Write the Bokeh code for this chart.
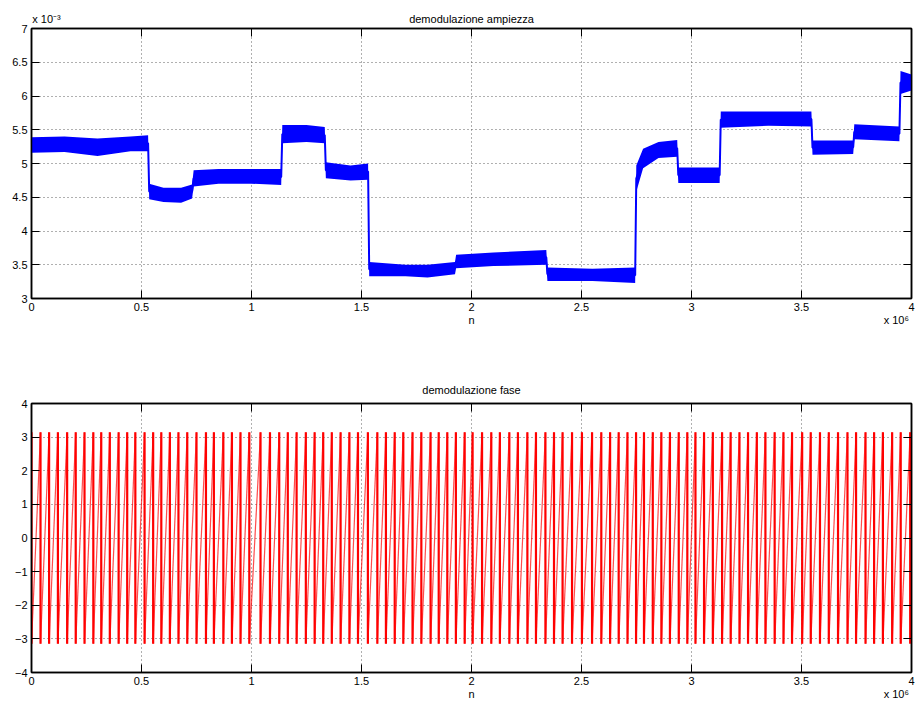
import numpy as np
from bokeh.plotting import figure
from bokeh.layouts import column
from bokeh.models import Range1d, FixedTicker, LinearAxis
from bokeh.embed import file_html
from bokeh.resources import INLINE

FONT = "Liberation Sans"

# ---------------- data ----------------
# amplitude envelope: n in units of 1e6, amplitude in units of 1e-3
amp_n = [0.0, 0.15, 0.30, 0.45, 0.530,
         0.535, 0.60, 0.68, 0.730,
         0.737, 0.85, 1.00, 1.135,
         1.140, 1.25, 1.333,
         1.338, 1.45, 1.530,
         1.535, 1.70, 1.80, 1.925,
         1.930, 2.10, 2.340,
         2.345, 2.55, 2.744,
         2.749, 2.78, 2.85, 2.935,
         2.940, 3.128,
         3.133, 3.35, 3.545,
         3.550, 3.735,
         3.740, 3.945,
         3.950, 4.000]
amp_lo = [5.16, 5.17, 5.11, 5.18, 5.18,
          4.47, 4.43, 4.42, 4.48,
          4.66, 4.70, 4.70, 4.68,
          5.30, 5.32, 5.30,
          4.78, 4.75, 4.76,
          3.33, 3.33, 3.31, 3.36,
          3.45, 3.48, 3.50,
          3.26, 3.26, 3.23,
          4.58, 4.93, 5.08, 5.10,
          4.71, 4.71,
          5.53, 5.56, 5.55,
          5.13, 5.14,
          5.36, 5.33,
          6.03, 6.08]
amp_hi = [5.39, 5.40, 5.37, 5.40, 5.42,
          4.70, 4.64, 4.64, 4.69,
          4.90, 4.92, 4.92, 4.92,
          5.57, 5.57, 5.54,
          5.02, 4.97, 5.00,
          3.54, 3.50, 3.50, 3.54,
          3.65, 3.68, 3.72,
          3.46, 3.44, 3.46,
          4.97, 5.22, 5.32, 5.35,
          4.94, 4.94,
          5.77, 5.77, 5.77,
          5.34, 5.34,
          5.58, 5.55,
          6.37, 6.32]

# phase wrap positions (n in units of 1e6), where phase jumps from +pi to -pi
phase_wraps = [0.000, 0.041, 0.080, 0.120, 0.162, 0.201, 0.241, 0.281, 0.317, 0.356,
               0.396, 0.435, 0.472, 0.514, 0.553, 0.590, 0.629, 0.668, 0.708, 0.750,
               0.793, 0.829, 0.872, 0.911, 0.950, 0.990,
               1.041, 1.084, 1.126, 1.165, 1.205, 1.247, 1.287, 1.326, 1.365, 1.405,
               1.445, 1.484, 1.529, 1.572, 1.611, 1.651, 1.690, 1.732, 1.772, 1.814,
               1.851, 1.890, 1.929, 1.969,
               2.005, 2.048, 2.090, 2.129, 2.172, 2.211, 2.254, 2.293, 2.336, 2.375,
               2.414, 2.457, 2.502, 2.548, 2.590, 2.630, 2.669, 2.709, 2.748, 2.784,
               2.824, 2.863, 2.902, 2.942, 2.981,
               3.018, 3.057, 3.097, 3.139, 3.178, 3.218, 3.257, 3.297, 3.336, 3.378,
               3.418, 3.457, 3.503, 3.542, 3.584, 3.624, 3.666, 3.709, 3.748, 3.791,
               3.830, 3.870, 3.912, 3.951, 3.994]
phase_max = 3.1416

x_ticks = [0, 0.5, 1, 1.5, 2, 2.5, 3, 3.5, 4]
x_tick_labels = ["0", "0.5", "1", "1.5", "2", "2.5", "3", "3.5", "4"]
amp_ticks = [3, 3.5, 4, 4.5, 5, 5.5, 6, 6.5, 7]
amp_tick_labels = ["3", "3.5", "4", "4.5", "5", "5.5", "6", "6.5", "7"]
ph_ticks = [-4, -3, -2, -1, 0, 1, 2, 3, 4]
ph_tick_labels = ["\u22124", "\u22123", "\u22122", "\u22121", "0", "1", "2", "3", "4"]

titles = ["demodulazione ampiezza", "demodulazione fase"]
x_label = "n"
x_multiplier = "x 10\u2076"
amp_multiplier = "x 10\u207b\u00b3"


def style_axis(ax, ticks, labels=None, show_labels=True):
    ax.ticker = FixedTicker(ticks=ticks)
    ax.axis_line_color = "black"
    ax.axis_line_width = 1.5
    ax.major_tick_line_color = "black"
    ax.major_tick_line_width = 1
    ax.major_tick_in = 8
    ax.major_tick_out = 0
    ax.minor_tick_line_color = None
    ax.major_label_text_font = FONT
    if show_labels:
        ax.major_label_text_color = "black"
        ax.major_label_text_font_size = "11px"
        ax.major_label_standoff = 4
        if labels is not None:
            ax.major_label_overrides = {t: s for t, s in zip(ticks, labels)}
    else:
        ax.major_label_text_color = None
        ax.major_label_text_font_size = "1px"
        ax.major_label_standoff = 0


def text_axis(p, side, positions, texts, size="11px", standoff=0):
    """An axis row with no line and no ticks, used only to place texts outside the frame."""
    ax = LinearAxis(ticker=FixedTicker(ticks=positions),
                    major_label_overrides={t: s for t, s in zip(positions, texts)})
    ax.axis_line_color = None
    ax.major_tick_line_color = None
    ax.minor_tick_line_color = None
    ax.major_tick_in = 0
    ax.major_tick_out = 0
    ax.major_label_text_font = FONT
    ax.major_label_text_font_size = size
    ax.major_label_text_color = "black"
    ax.major_label_standoff = standoff
    p.add_layout(ax, side)
    return ax


def make_fig(yr, yticks, ylabels, height, btop, bbottom):
    p = figure(width=915, height=height, x_range=Range1d(0, 4), y_range=Range1d(*yr),
               output_backend="svg", toolbar_location=None,
               min_border_left=31, min_border_right=4,
               min_border_top=btop, min_border_bottom=bbottom)
    p.background_fill_color = "white"
    p.border_fill_color = "white"
    p.outline_line_color = "black"
    p.outline_line_width = 1.5

    style_axis(p.xaxis[0], x_ticks, x_tick_labels)
    style_axis(p.yaxis[0], yticks, ylabels)

    top = LinearAxis()
    style_axis(top, x_ticks, show_labels=False)
    p.add_layout(top, "above")
    right = LinearAxis()
    style_axis(right, yticks, show_labels=False)
    p.add_layout(right, "right")

    for g in (p.xgrid[0], p.ygrid[0]):
        g.grid_line_color = "#606060"
        g.grid_line_dash = "1 3"
        g.grid_line_width = 1
    p.xgrid[0].ticker = FixedTicker(ticks=x_ticks)
    p.ygrid[0].ticker = FixedTicker(ticks=yticks)

    # "n" centred under the axis, "x 10^6" at the right end
    text_axis(p, "below", [2, 3.931], [x_label, x_multiplier], standoff=0)
    return p


# ---------------- amplitude ----------------
p1 = make_fig((3, 7), amp_ticks, amp_tick_labels, 355, 28, 57)
text_axis(p1, "above", [0.068, 2], [amp_multiplier, titles[0]], standoff=4)
amp_mid = [(a + b) / 2 for a, b in zip(amp_lo, amp_hi)]
p1.varea(x=amp_n, y1=amp_lo, y2=amp_hi, fill_color="#0000ff", fill_alpha=1.0)
p1.line(x=amp_n, y=amp_mid, line_color="#0000ff", line_width=2)

# ---------------- phase ----------------
p2 = make_fig((-4, 4), ph_ticks, ph_tick_labels, 354, 48, 37)
text_axis(p2, "above", [2], [titles[1]], standoff=8)
w = phase_wraps
p2.segment(x0=w[:-1], y0=[-phase_max] * (len(w) - 1), x1=w[1:], y1=[phase_max] * (len(w) - 1),
           line_color="#ff0000", line_width=1.2, line_alpha=0.7)
p2.segment(x0=w, y0=[phase_max] * len(w), x1=w, y1=[-phase_max] * len(w),
           line_color="#ff0000", line_width=2.2)

layout = column(p1, p2, spacing=0)
open("out.html", "w").write(file_html(layout, INLINE))
